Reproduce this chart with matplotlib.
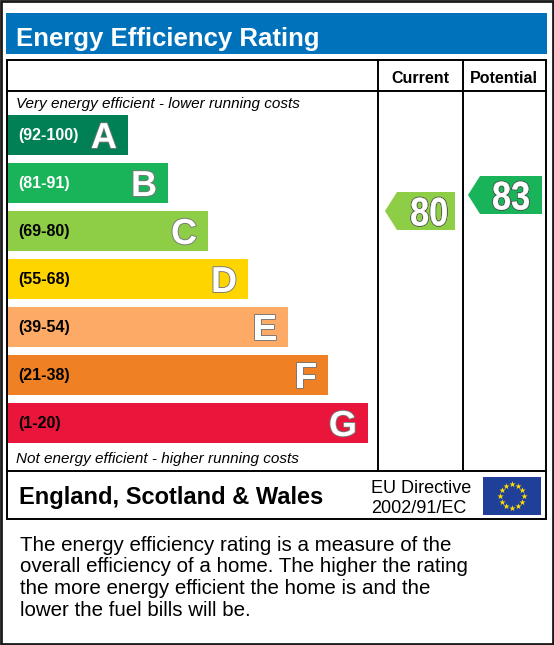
import numpy as np
import matplotlib
matplotlib.use('Agg')
import matplotlib.pyplot as plt
from matplotlib.patches import Rectangle, Polygon, PathPatch
from matplotlib.textpath import TextPath
from matplotlib.font_manager import FontProperties
from matplotlib.transforms import Affine2D
import matplotlib.patheffects as pe

plt.rcParams['font.family'] = ['Liberation Sans', 'DejaVu Sans']

# data
band_letters = ['A', 'B', 'C', 'D', 'E', 'F', 'G']
band_low = [92, 81, 69, 55, 39, 21, 1]
band_high = [100, 91, 80, 68, 54, 38, 20]
band_colors = ['#008054', '#19b459', '#8dce46', '#ffd500', '#fcaa65', '#ef8023', '#e9153b']
range_text_colors = ['white', 'white', 'black', 'black', 'black', 'black', 'black']
current_score = 80
potential_score = 83
title = 'Energy Efficiency Rating'
footer_text = ('The energy efficiency rating is a measure of the\n'
               'overall efficiency of a home. The higher the rating\n'
               'the more energy efficient the home is and the\n'
               'lower the fuel bills will be.')

W, H = 554, 645
fig = plt.figure(figsize=(W/100, H/100), dpi=100)
ax = fig.add_axes([0, 0, 1, 1])
ax.set_xlim(0, W)
ax.set_ylim(H, 0)
ax.axis('off')

# outer frame
ax.add_patch(Rectangle((1, 1), W-2, H-2, fill=False, ec='#1a1a1a', lw=2))

# title bar
ax.add_patch(Rectangle((6, 13), 541, 41, fc='#0072bc', ec='none'))
ax.text(16, 46, title, color='white', fontsize=18.5, fontweight='bold', va='baseline')

# table
lw = 1.4
ax.add_patch(Rectangle((7, 60), 539, 459, fill=False, ec='black', lw=lw))
ax.plot([7, 546], [91, 91], color='black', lw=lw)
ax.plot([7, 546], [471, 471], color='black', lw=lw)
ax.plot([378, 378], [60, 471], color='black', lw=lw)
ax.plot([463, 463], [60, 471], color='black', lw=lw)
ax.text(420, 83, 'Current', fontsize=11.5, fontweight='bold', ha='center', va='baseline')
ax.text(504, 83, 'Potential', fontsize=11.5, fontweight='bold', ha='center', va='baseline')
ax.text(16, 108, 'Very energy efficient - lower running costs', fontsize=11, style='italic', va='baseline')
ax.text(16, 463, 'Not energy efficient - higher running costs', fontsize=11, style='italic', va='baseline')

# bands
bar_top0, bar_step, bar_h = 115, 48, 40
tops = [bar_top0 + bar_step*i for i in range(len(band_letters))]
widths = [120 + 40*i for i in range(len(band_letters))]
ax.barh([t + bar_h/2 for t in tops], widths, height=bar_h, left=8, color=band_colors)
outline = [pe.withStroke(linewidth=1.3, foreground='#777777')]
for i, letter in enumerate(band_letters):
    yc = tops[i] + bar_h/2
    ax.text(18, yc + 5, '(%d-%d)' % (band_low[i], band_high[i]), color=range_text_colors[i],
            fontsize=11.5, fontweight='bold', va='baseline')
    ax.text(8 + widths[i] - 11, yc + 13, letter, color='white', fontsize=26, fontweight='bold',
            ha='right', va='baseline', path_effects=outline)

def score_y(score):
    for i in range(len(band_letters)):
        if band_low[i] <= score <= band_high[i]:
            bottom = tops[i] + bar_h
            return bottom - (score - band_low[i]) / (band_high[i] - band_low[i]) * bar_h, i
    return None, None

num_font = FontProperties(family='Liberation Sans', weight='bold')

def arrow(score, x0, x1, dx):
    yc, i = score_y(score)
    h = 38
    tip = 12
    pts = [(x0, yc), (x0 + tip, yc - h/2), (x1, yc - h/2), (x1, yc + h/2), (x0 + tip, yc + h/2)]
    ax.add_patch(Polygon(pts, closed=True, fc=band_colors[i], ec='none'))
    # condensed digits, white with a thin dark rim
    tp = TextPath((0, 0), str(score), size=40, prop=num_font)
    bb = tp.get_extents()
    sx = 0.86
    xc = (x0 + tip + x1) / 2 + dx
    tr = Affine2D().translate(-(bb.x0 + bb.x1)/2, 0).scale(sx, -1).translate(xc, yc + 14.5)
    path = tr.transform_path(tp)
    ax.add_patch(PathPatch(path, fc='#3a3a3a', ec='#3a3a3a', lw=1.3))
    ax.add_patch(PathPatch(path, fc='white', ec='white', lw=0.3))

arrow(current_score, 385, 455, 3)
arrow(potential_score, 468, 542, 0)

# footer row
ax.text(19, 504, 'England, Scotland & Wales', fontsize=17, fontweight='bold', va='baseline')
ax.text(371, 493, 'EU Directive', fontsize=13, va='baseline')
ax.text(371, 513, '2002/91/EC', fontsize=13, va='baseline')
ax.add_patch(Rectangle((483, 477), 58, 38, fc='#1f3f99', ec='none'))
ang = np.linspace(0, 2*np.pi, 13)[:-1]
ax.scatter(512 + 12*np.cos(ang), 496 + 12*np.sin(ang), marker='*', s=22, color='#ffdd00', lw=0)

# description
for k, line in enumerate(footer_text.split('\n')):
    ax.text(20, 551 + 21.5*k, line, fontsize=14.8, va='baseline')

fig.savefig('out.png', dpi=100)
